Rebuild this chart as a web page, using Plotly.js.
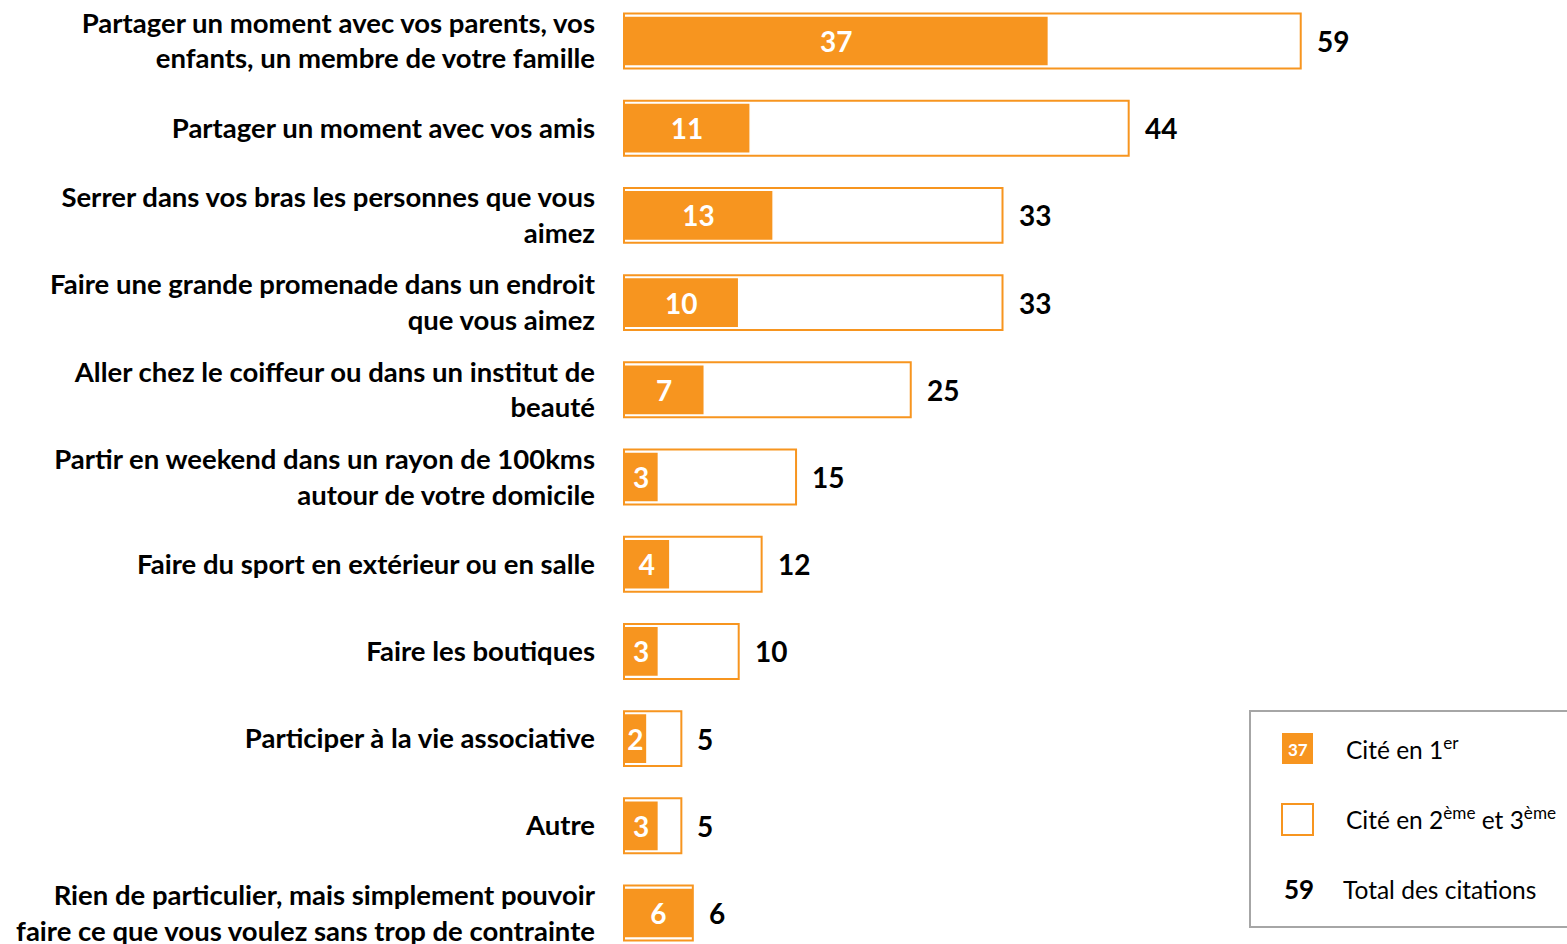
<!DOCTYPE html>
<html>
<head>
<meta charset="utf-8">
<script src="https://cdn.plot.ly/plotly-3.0.1.min.js"></script>
<style>html,body{margin:0;padding:0;background:#fff;}#chart{width:1567px;height:944px;}</style>
</head>
<body>
<div id="chart"></div>
<script>
const categories = [
  "Partager un moment avec vos parents, vos<br>enfants, un membre de votre famille",
  "Partager un moment avec vos amis",
  "Serrer dans vos bras les personnes que vous<br>aimez",
  "Faire une grande promenade dans un endroit<br>que vous aimez",
  "Aller chez le coiffeur ou dans un institut de<br>beauté",
  "Partir en weekend dans un rayon de 100kms<br>autour de votre domicile",
  "Faire du sport en extérieur ou en salle",
  "Faire les boutiques",
  "Participer à la vie associative",
  "Autre",
  "Rien de particulier, mais simplement pouvoir<br>faire ce que vous voulez sans trop de contrainte"
];
const citeEn1er = [37, 11, 13, 10, 7, 3, 4, 3, 2, 3, 6];
const totalCitations = [59, 44, 33, 33, 25, 15, 12, 10, 5, 5, 6];
const legendLabels = ["Cité en 1<sup>er</sup>", "Cité en 2<sup>ème</sup> et 3<sup>ème</sup>", "Total des citations"];
const legendSample = ["37", "59"];

const ORANGE = "#F7951F";
const FONT = "Lato, 'Open Sans', sans-serif";
const W = 1567, H = 944, L = 622, R = 0;
const plotW = W - L - R;
const px2x = px => (px - L) / plotW;
const py2y = py => 1 - py / H;

const outerBg = {
  type: "bar", orientation: "h", x: totalCitations, y: categories,
  width: 0.63, marker: {color: "#ffffff", line: {width: 0}},
  hoverinfo: "skip", showlegend: false
};
const inner = {
  type: "bar", orientation: "h", x: citeEn1er, y: categories,
  width: 0.575, marker: {color: ORANGE, line: {color: "#ffffff", width: 1.5}},
  text: citeEn1er.map(String), textposition: "inside", insidetextanchor: "middle",
  constraintext: "none", textangle: 0,
  textfont: {family: FONT, size: 28, color: "#ffffff", weight: 700},
  hoverinfo: "skip", showlegend: false
};
const outerLine = {
  type: "bar", orientation: "h", x: totalCitations, y: categories,
  width: 0.63, marker: {color: "rgba(0,0,0,0)", line: {color: ORANGE, width: 2}},
  hoverinfo: "skip", showlegend: false
};

const annotations = totalCitations.map((v, i) => ({
  x: v, y: categories[i], xref: "x", yref: "y", text: "<b>" + v + "</b>",
  showarrow: false, xanchor: "left", xshift: 14,
  font: {family: FONT, size: 28, color: "#000"}
}));

// legend
const shapes = [
  {type: "rect", xref: "paper", yref: "paper", x0: px2x(1250), x1: px2x(1600), y0: py2y(711), y1: py2y(927),
   line: {color: "#A6A6A6", width: 2}, fillcolor: "rgba(0,0,0,0)"},
  {type: "rect", xref: "paper", yref: "paper", x0: px2x(1282), x1: px2x(1313), y0: py2y(733), y1: py2y(764),
   line: {width: 0}, fillcolor: ORANGE},
  {type: "rect", xref: "paper", yref: "paper", x0: px2x(1282), x1: px2x(1313), y0: py2y(804), y1: py2y(835),
   line: {color: ORANGE, width: 2}, fillcolor: "#ffffff"}
];
annotations.push(
  {xref: "paper", yref: "paper", x: px2x(1297.5), y: py2y(749), text: "<b>" + legendSample[0] + "</b>",
   showarrow: false, xanchor: "center", yanchor: "middle", font: {family: FONT, size: 17, color: "#fff"}},
  {xref: "paper", yref: "paper", x: px2x(1299), y: py2y(889), text: "<b>" + legendSample[1] + "</b>",
   showarrow: false, xanchor: "center", yanchor: "middle", font: {family: FONT, size: 26, color: "#000"}},
  {xref: "paper", yref: "paper", x: px2x(1344), y: py2y(748), text: legendLabels[0],
   showarrow: false, xanchor: "left", yanchor: "middle", font: {family: FONT, size: 24.5, color: "#000"}},
  {xref: "paper", yref: "paper", x: px2x(1344), y: py2y(818), text: legendLabels[1],
   showarrow: false, xanchor: "left", yanchor: "middle", font: {family: FONT, size: 24.5, color: "#000"}},
  {xref: "paper", yref: "paper", x: px2x(1341), y: py2y(889), text: legendLabels[2],
   showarrow: false, xanchor: "left", yanchor: "middle", font: {family: FONT, size: 24.5, color: "#000"}}
);

const pxPerUnit = 11.47;
const x0 = -2 / pxPerUnit;
const layout = {
  width: W, height: H,
  margin: {l: L, r: R, t: 0, b: 0, pad: 0},
  paper_bgcolor: "#fff", plot_bgcolor: "#fff",
  barmode: "overlay",
  showlegend: false,
  xaxis: {range: [x0, x0 + plotW / pxPerUnit], visible: false, fixedrange: true},
  yaxis: {type: "category", range: [10.355, -0.470], showgrid: false, zeroline: false, showline: false,
          ticks: "", ticklabelstandoff: 26, fixedrange: true,
          tickfont: {family: FONT, size: 27.5, color: "#000", weight: 700}},
  shapes: shapes,
  annotations: annotations
};

Plotly.newPlot("chart", [outerBg, inner, outerLine], layout, {displayModeBar: false, staticPlot: true});
</script>
</body>
</html>
